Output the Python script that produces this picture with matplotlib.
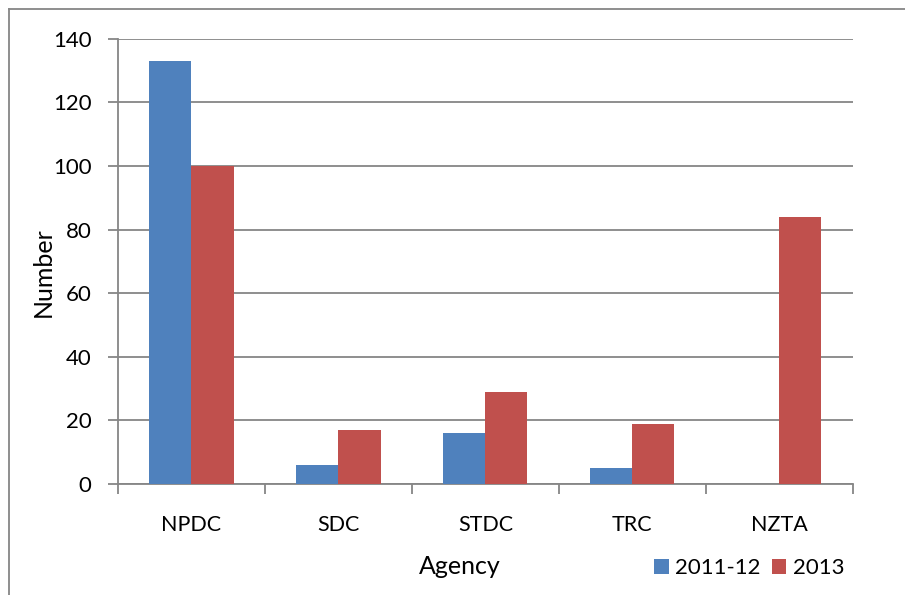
import matplotlib.pyplot as plt
import numpy as np
from matplotlib.lines import Line2D

# agency counts
agencies = ['NPDC', 'SDC', 'STDC', 'TRC', 'NZTA']
series_labels = ['2011-12', '2013']
vals_2011 = [133, 6, 16, 5, 0]
vals_2013 = [100, 17, 29, 19, 84]
yticks = [0, 20, 40, 60, 80, 100, 120, 140]

blue = '#4f81bd'
red = '#c0504d'
grey = '#868686'

plt.rcParams['font.family'] = ['Lato', 'DejaVu Sans']

fig = plt.figure(figsize=(9.05, 5.95), dpi=100)
ax = fig.add_axes([0.1304, 0.1866, 0.812, 0.748])

x = np.arange(len(agencies))
w = 0.286
ax.bar(x - w / 2, vals_2011, w, color=blue, label=series_labels[0], zorder=3)
ax.bar(x + w / 2, vals_2013, w, color=red, label=series_labels[1], zorder=3)

ax.set_xlim(-0.5, len(agencies) - 0.5)
ax.set_ylim(0, 140)
ax.set_yticks(yticks)
ax.yaxis.grid(True, color=grey, lw=1.3, zorder=0)
ax.set_axisbelow(True)

ax.set_xticks(x)
ax.set_xticklabels(agencies, fontsize=15.5)
ax.tick_params(axis='x', length=0, pad=22)
ax.set_xticks(np.arange(-0.5, len(agencies)), minor=True)
ax.tick_params(axis='x', which='minor', length=7, color=grey, width=1.3, direction='out')
ax.tick_params(axis='y', length=7, color=grey, width=1.3, labelsize=16, pad=12)

for s in ['top', 'right']:
    ax.spines[s].set_visible(False)
for s in ['left', 'bottom']:
    ax.spines[s].set_color(grey)
    ax.spines[s].set_linewidth(1.3)

ax.set_ylabel('Number', fontsize=18, labelpad=-1)
ax.yaxis.label.set_y(0.475)
fig.text(0.508, 0.048, 'Agency', fontsize=18, ha='center', va='center')

ax.legend(loc='center', bbox_to_anchor=(0.828, 0.045), bbox_transform=fig.transFigure,
          ncol=2, frameon=False, fontsize=16, handlelength=0.65, handleheight=0.65,
          handletextpad=0.3, columnspacing=0.5)

# outer chart border
fig.add_artist(Line2D([0.0094, 0.0094], [0, 0.985], color=grey, lw=1.3, transform=fig.transFigure))
fig.add_artist(Line2D([0.0094, 1], [0.985, 0.985], color=grey, lw=1.3, transform=fig.transFigure))

fig.savefig('out.png', dpi=100)
